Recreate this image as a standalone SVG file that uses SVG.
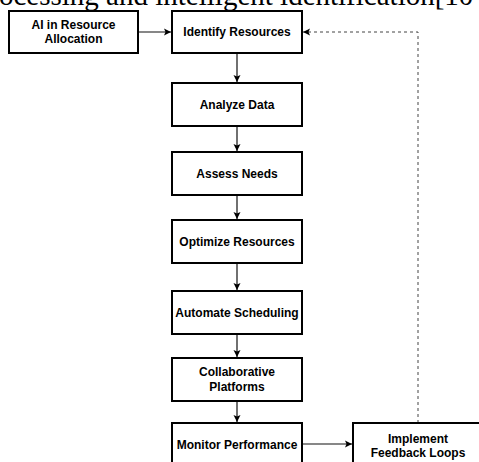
<svg xmlns="http://www.w3.org/2000/svg" width="479" height="462" viewBox="0 0 479 462">
<defs>
<style>
.box{fill:#fff;stroke:#000;stroke-width:2}
.lbl{font-family:"Liberation Sans",Arial,sans-serif;font-size:12px;font-weight:bold;fill:#000;text-anchor:middle}
.edge{fill:none;stroke:#111;stroke-width:1.2}
.dash{fill:none;stroke:#444;stroke-width:1;stroke-dasharray:3 3}
.top{font-family:"Liberation Serif","Times New Roman",serif;font-size:29px;fill:#000}
</style>
<marker id="ah" markerWidth="8" markerHeight="8" refX="7" refY="4" orient="auto" markerUnits="userSpaceOnUse">
<path d="M0,0.5 L7,4 L0,7.5 L1.5,4 Z" fill="#000"/>
</marker>
</defs>
<rect width="479" height="462" fill="#fff"/>
<text class="top" x="-1" y="4.5">ocessing and intelligent identification[10</text>
<g id="connectors">
<line class="edge" x1="138" y1="32" x2="171" y2="32" marker-end="url(#ah)"/>
<line class="edge" x1="237" y1="53" x2="237" y2="82" marker-end="url(#ah)"/>
<line class="edge" x1="237" y1="126" x2="237" y2="151" marker-end="url(#ah)"/>
<line class="edge" x1="237" y1="195" x2="237" y2="219" marker-end="url(#ah)"/>
<line class="edge" x1="237" y1="263" x2="237" y2="290" marker-end="url(#ah)"/>
<line class="edge" x1="237" y1="334" x2="237" y2="357" marker-end="url(#ah)"/>
<line class="edge" x1="237" y1="401" x2="237" y2="422" marker-end="url(#ah)"/>
<line class="edge" x1="302" y1="444" x2="352" y2="444" marker-end="url(#ah)"/>
<polyline class="dash" points="418,423 418,32 303,32" marker-end="url(#ah)"/>
</g>
<g id="n-ai"><rect class="box" x="9" y="11" width="129" height="42"/><text class="lbl" x="73.5" y="29">AI in Resource</text><text class="lbl" x="73.5" y="43">Allocation</text></g>
<g id="n-identify"><rect class="box" x="172" y="11" width="130" height="42"/><text class="lbl" x="237" y="36">Identify Resources</text></g>
<g id="n-analyze"><rect class="box" x="172" y="83" width="130" height="43"/><text class="lbl" x="237" y="108.5">Analyze Data</text></g>
<g id="n-assess"><rect class="box" x="172" y="152" width="130" height="43"/><text class="lbl" x="237" y="177.5">Assess Needs</text></g>
<g id="n-optimize"><rect class="box" x="172" y="220" width="130" height="43"/><text class="lbl" x="237" y="245.5">Optimize Resources</text></g>
<g id="n-automate"><rect class="box" x="172" y="291" width="130" height="43"/><text class="lbl" x="237" y="316.5">Automate Scheduling</text></g>
<g id="n-collab"><rect class="box" x="172" y="358" width="130" height="43"/><text class="lbl" x="237" y="376">Collaborative</text><text class="lbl" x="237" y="390.5">Platforms</text></g>
<g id="n-monitor"><rect class="box" x="172" y="423" width="130" height="42"/><text class="lbl" x="237" y="448.5">Monitor Performance</text></g>
<g id="n-implement"><rect class="box" x="353" y="423" width="130" height="42"/><text class="lbl" x="418" y="443">Implement</text><text class="lbl" x="418" y="457">Feedback Loops</text></g>
</svg>
